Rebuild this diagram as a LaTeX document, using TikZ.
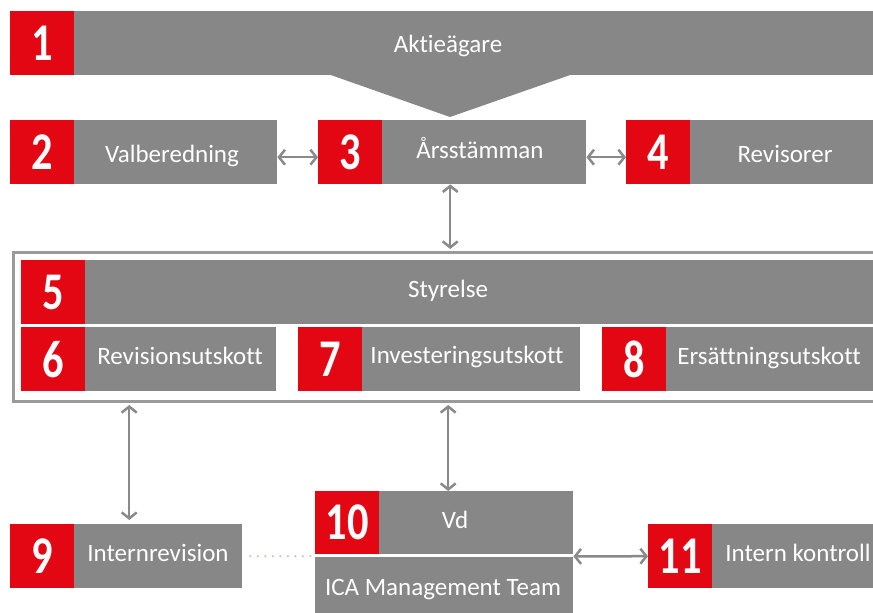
\documentclass[tikz,border=0pt]{standalone}
\usepackage{fontspec}
\setmainfont[Ligatures=NoCommon]{Carlito}
\newfontfamily\numfont[FakeStretch=0.8]{Carlito}
\usetikzlibrary{arrows.meta}
\definecolor{icared}{HTML}{E30613}
\definecolor{icagray}{HTML}{878787}
\definecolor{arrgray}{HTML}{8A8A8A}
\definecolor{framegray}{HTML}{9A9A9A}
\definecolor{dotcol}{HTML}{CDC5BD}
\begin{document}
\begin{tikzpicture}[x=1pt,y=-1pt,
  num/.style={fill=icared,text=white,inner sep=0,minimum width=64pt,minimum height=64pt,anchor=north west,font=\numfont\bfseries\fontsize{53}{53}\selectfont},
  bar/.style={fill=icagray,inner sep=0,anchor=north west,minimum height=64pt},
  lbl/.style={text=white,inner sep=0,anchor=base,font=\fontsize{25}{28}\selectfont},
  arr/.style={draw=arrgray,line width=2.5pt,{Straight Barb[length=6pt,width=15pt]}-{Straight Barb[length=6pt,width=15pt]}},
  boardframe/.style={draw=framegray,line width=3pt,inner sep=0,anchor=north west},
  dots/.style={draw=dotcol,line width=2.5pt,line cap=round,dash pattern=on 0pt off 7.5pt}
]
\clip (0,0) rectangle (873,613);
\fill[white] (0,0) rectangle (873,613);
% row 1
\node[num] (r1) at (10,11) {1};
\node[bar,minimum width=805pt] (g1) at (74,11) {};
\fill[icagray] (328,74) -- (573,74) -- (450,117) -- cycle;
\node[lbl] (t1) at (448,52) {Aktieägare};
% row 2
\node[num] (r2) at (10,120) {2};
\node[bar,minimum width=203pt] (g2) at (74,120) {};
\node[lbl] (t2) at (172,162) {Valberedning};
\node[num] (r3) at (318,120) {3};
\node[bar,minimum width=204pt] (g3) at (382,120) {};
\node[lbl] (t3) at (480,158) {Årsstämman};
\node[num] (r4) at (626,120) {4};
\node[bar,minimum width=190pt] (g4) at (690,120) {};
\node[lbl] (t4) at (785,162) {Revisorer};
% board frame
\node[boardframe,minimum width=870pt,minimum height=149pt] (board) at (12,251) {};
\node[num] (r5) at (21,260) {5};
\node[bar,minimum width=795pt] (g5) at (85,260) {};
\node[lbl] (t5) at (448,297) {Styrelse};
\node[num] (r6) at (21,327) {6};
\node[bar,minimum width=191pt] (g6) at (85,327) {};
\node[lbl] (t6) at (180,364) {Revisionsutskott};
\node[num] (r7) at (298,327) {7};
\node[bar,minimum width=218pt] (g7) at (362,327) {};
\node[lbl] (t7) at (467,363) {Investeringsutskott};
\node[num] (r8) at (602,327) {8};
\node[bar,minimum width=214pt] (g8) at (666,327) {};
\node[lbl] (t8) at (769,364) {Ersättningsutskott};
% bottom row
\node[num] (r9) at (10,524) {9};
\node[bar,minimum width=168pt] (g9) at (74,524) {};
\node[lbl] (t9) at (158,561) {Internrevision};
\node[num,minimum height=63pt] (r10) at (315,491) {10};
\node[bar,minimum width=194pt,minimum height=63pt] (g10) at (379,491) {};
\node[lbl] (t10) at (455,528) {Vd};
\node[bar,minimum width=258pt,minimum height=60pt] (ica) at (315,557) {};
\node[lbl] (t12) at (443,595) {ICA Management Team};
\node[num] (r11) at (648,524) {11};
\node[bar,minimum width=170pt] (g11) at (712,524) {};
\node[lbl] (t11) at (798,561) {Intern kontroll};
% connectors
\draw[arr] ([yshift=-5pt]g2.east) -- ([yshift=-5pt]r3.west);
\draw[arr] ([yshift=-5pt]g3.east) -- ([yshift=-5pt]r4.west);
\draw[arr,shorten >=2pt] ([xshift=-34pt]g3.south) -- ([xshift=-34pt]g3.south |- board.north);
\draw[arr,shorten <=2pt,shorten >=4pt] ([xshift=-29pt]g9.north |- board.south) -- ([xshift=-29pt]g9.north);
\draw[arr,shorten <=2pt] ([xshift=-28pt]g10.north |- board.south) -- ([xshift=-28pt]g10.north);
\draw[arr] ([yshift=-2pt]g10.south east) -- (r11.west);
\draw[dots,shorten <=8pt,shorten >=2pt] (g9.east) -- (g9.east -| ica.west);
\end{tikzpicture}
\end{document}
